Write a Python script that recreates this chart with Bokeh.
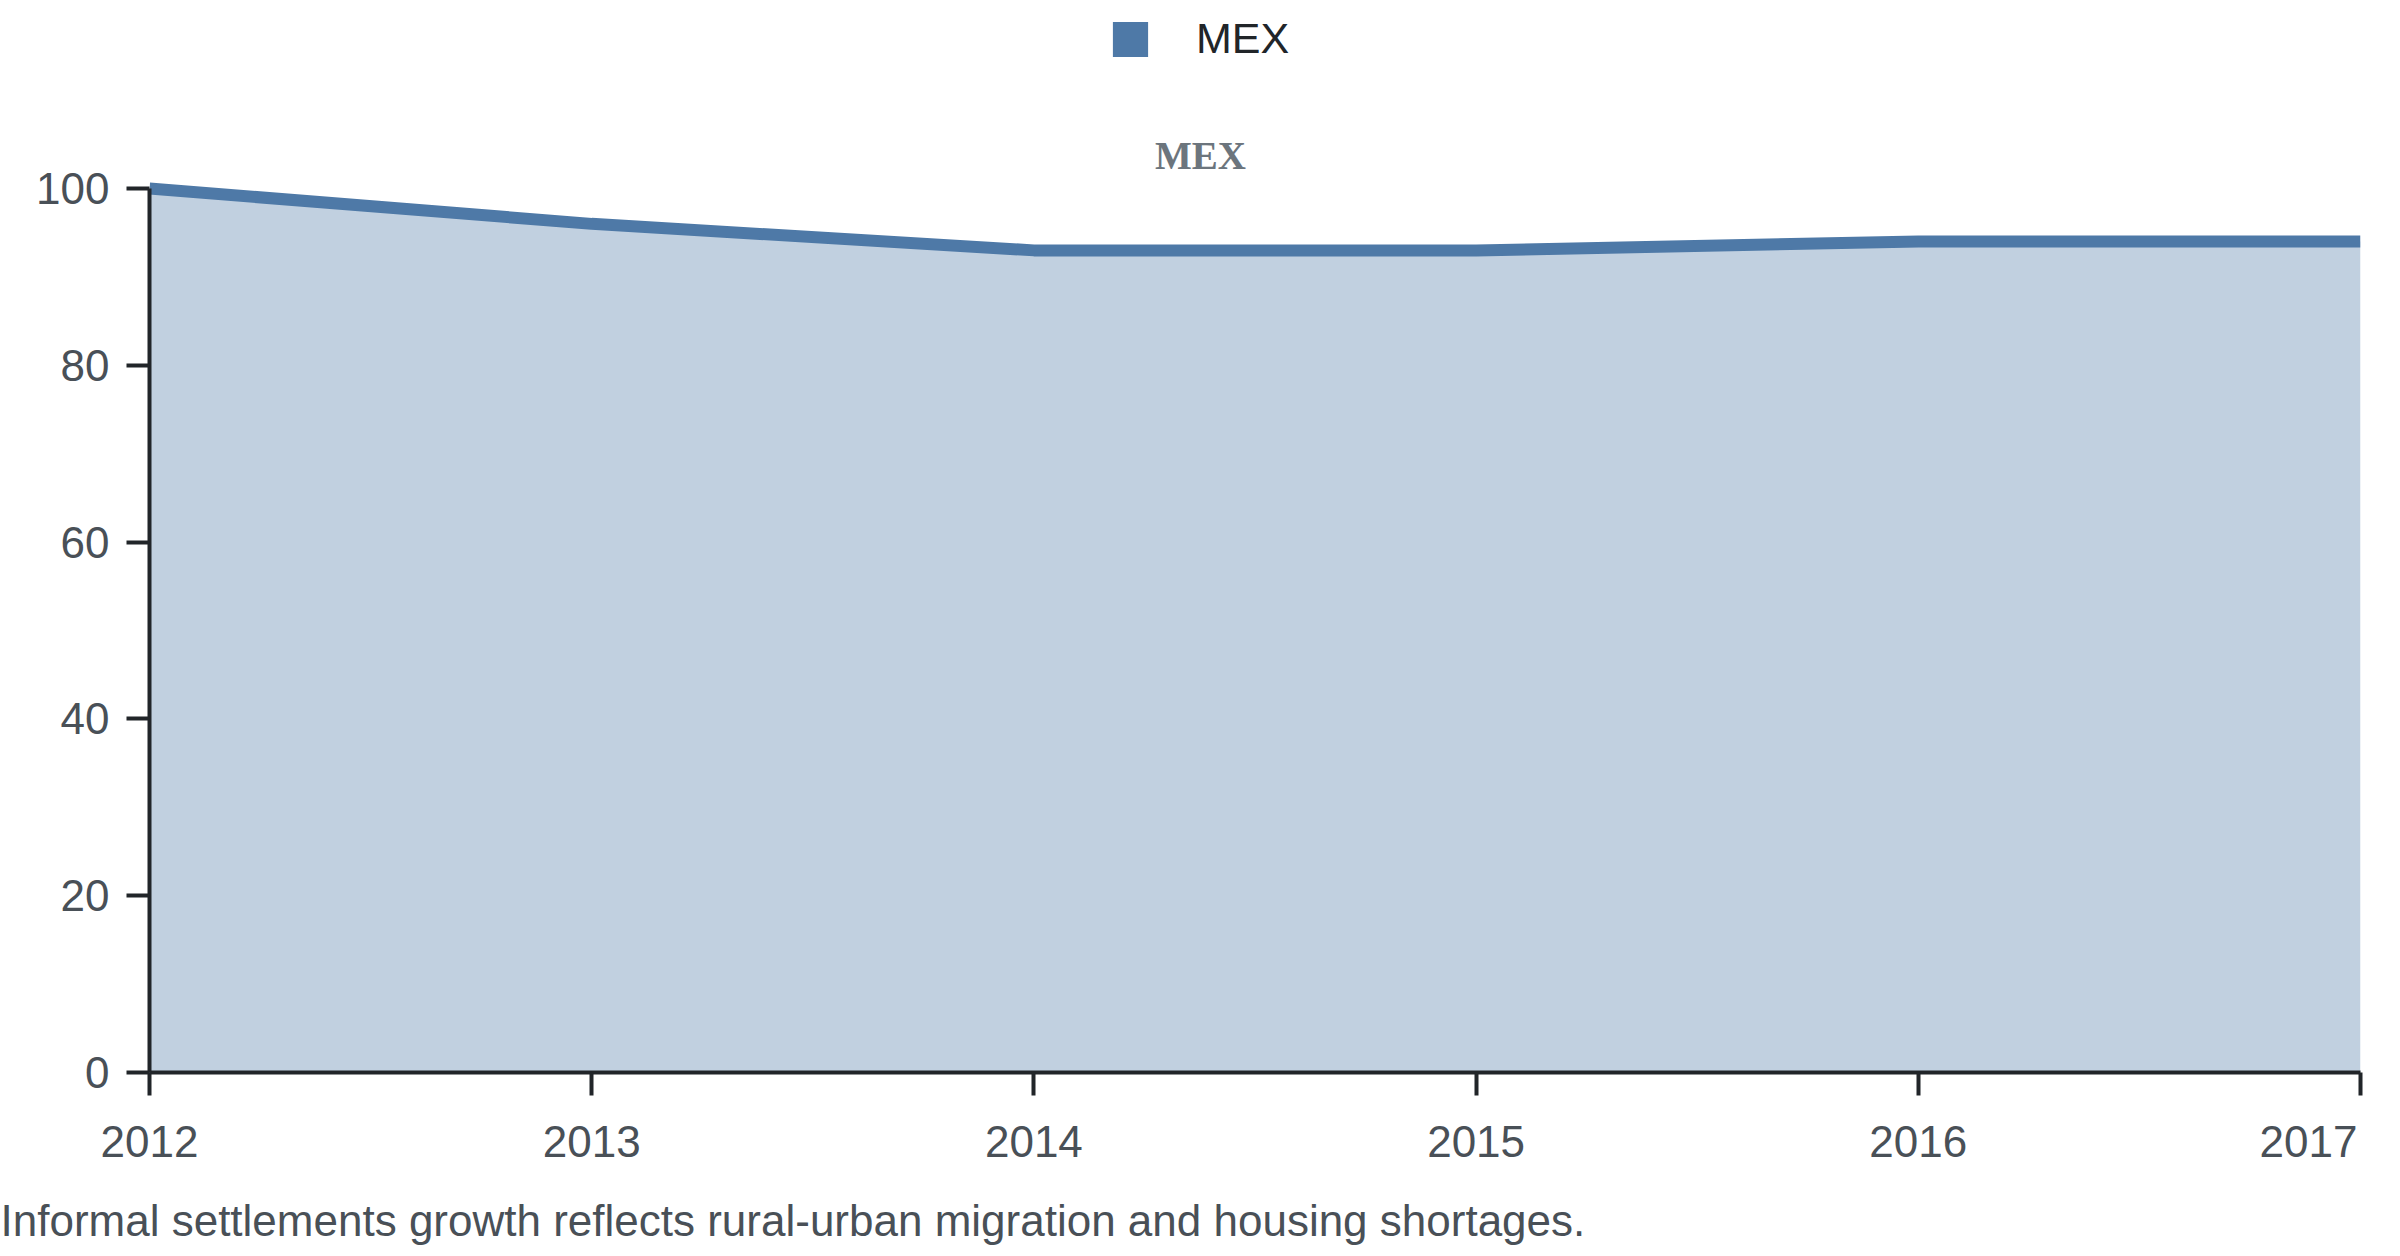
from bokeh.plotting import figure
from bokeh.models import Label, Legend, LegendItem, Range1d, FixedTicker, CustomLabelingPolicy
from bokeh.layouts import column
from bokeh.core.properties import value
from bokeh.embed import file_html
from bokeh.resources import INLINE

# ---- data ----
years = [2012, 2013, 2014, 2015, 2016, 2017]
values = [100, 96, 93, 93, 94, 94]
y_ticks = [0, 20, 40, 60, 80, 100]
series_name = "MEX"
chart_title = "MEX"
caption = "Informal settlements growth reflects rural-urban migration and housing shortages."

# ---- styles / layout ----
BLUE = "#4e79a7"
AXIS = "#212529"
TICKTXT = "#495057"
TITLE_C = "#6c757d"
SANS = "Liberation Sans"
SERIF = "Liberation Serif"
FS = "44px"

W = 2400
H_MAIN = 1103
H_BOT = 153
BL, BR = 149, 40
Y0_PX = 1072          # pixel row of value 0 in the main figure
PX_PER_100 = 884.0    # pixels between 0 and 100
frame_w = W - BL - BR
ppy = frame_w / (years[-1] - years[0])
y_end = 100.0 * Y0_PX / PX_PER_100

p = figure(width=W, height=H_MAIN, output_backend="svg", toolbar_location=None,
           x_range=Range1d(years[0], years[-1]), y_range=Range1d(0, y_end),
           min_border_left=BL, min_border_right=BR, min_border_top=0,
           min_border_bottom=H_MAIN - Y0_PX)
p.outline_line_color = None
p.grid.visible = False
p.background_fill_color = "white"
p.border_fill_color = "white"

p.varea(x=years, y1=[0] * len(years), y2=values, fill_color=BLUE, fill_alpha=0.35)
p.line(x=years, y=values, line_color=BLUE, line_width=12)

# axes
for ax in (p.xaxis[0], p.yaxis[0]):
    ax.axis_line_color = AXIS
    ax.axis_line_width = 4
    ax.major_tick_line_color = AXIS
    ax.major_tick_line_width = 4
    ax.major_tick_out = 23
    ax.major_tick_in = 0
    ax.minor_tick_line_color = None
    ax.major_label_text_font = SANS
    ax.major_label_text_font_size = FS
    ax.major_label_text_color = TICKTXT

# x axis of the main figure: line and ticks only; its labels are drawn in the strip below
p.xaxis.ticker = FixedTicker(ticks=years)
p.xaxis.major_label_text_font_size = "1px"
p.xaxis.major_label_standoff = 0
p.xaxis.major_label_policy = CustomLabelingPolicy(code="""
for (const i of indices)
  indices.unset(i)
""")
p.yaxis.ticker = FixedTicker(ticks=y_ticks)
p.yaxis.bounds = (y_ticks[0], y_ticks[-1])
p.yaxis.major_label_standoff = 17

# chart title
p.add_layout(Label(x=W / 2 - BL, y=917, x_units="screen", y_units="screen", text=chart_title,
                   text_align="center", text_baseline="alphabetic",
                   text_font=SERIF, text_font_style="bold", text_font_size="39px",
                   text_color=TITLE_C))

# legend (swatch from a zero-size quad so the legend has a solid square)
dummy = p.quad(left=[years[0]], right=[years[0]], bottom=[0], top=[0],
               fill_color=BLUE, fill_alpha=1.0, line_color=None)
legend = Legend(items=[LegendItem(label=series_name, renderers=[dummy])],
                location=(959, 1009), orientation="horizontal",
                glyph_width=44, glyph_height=44, label_height=44,
                label_standoff=44, padding=0, margin=0, spacing=0,
                label_text_font=SANS, label_text_font_size="43px",
                label_text_color="#212529",
                background_fill_alpha=0, border_line_color=None)
p.add_layout(legend, "center")

# ---- bottom strip: x tick labels and caption, same x mapping ----
p2 = figure(width=W, height=H_BOT, output_backend="svg", toolbar_location=None,
            x_range=Range1d(years[0] - BL / ppy, years[-1] + BR / ppy),
            y_range=Range1d(0, H_BOT),
            min_border_left=0, min_border_right=0, min_border_top=0, min_border_bottom=0,
            x_axis_location=None, y_axis_location=None)
p2.outline_line_color = None
p2.grid.visible = False
p2.border_fill_color = "white"
p2.background_fill_color = "white"
for fig in (p, p2):
    if "frame_align" in fig.properties():
        fig.frame_align = False

aligns = ["right" if yr == years[-1] else "center" for yr in years]
offs = [-3 if yr == years[-1] else 0 for yr in years]
p2.text(x=years, y=[H_BOT - 38] * len(years), text=[str(yr) for yr in years],
        text_align=aligns, x_offset=offs, text_baseline="alphabetic",
        text_font=value(SANS), text_font_size=FS, text_color=TICKTXT)

p2.add_layout(Label(x=0, y=H_BOT - 117, x_units="screen", y_units="screen", text=caption,
                    text_align="left", text_baseline="alphabetic",
                    text_font=SANS, text_font_size=FS, text_color=TICKTXT))

layout = column(p, p2, spacing=0)
open("out.html", "w").write(file_html(layout, INLINE))
